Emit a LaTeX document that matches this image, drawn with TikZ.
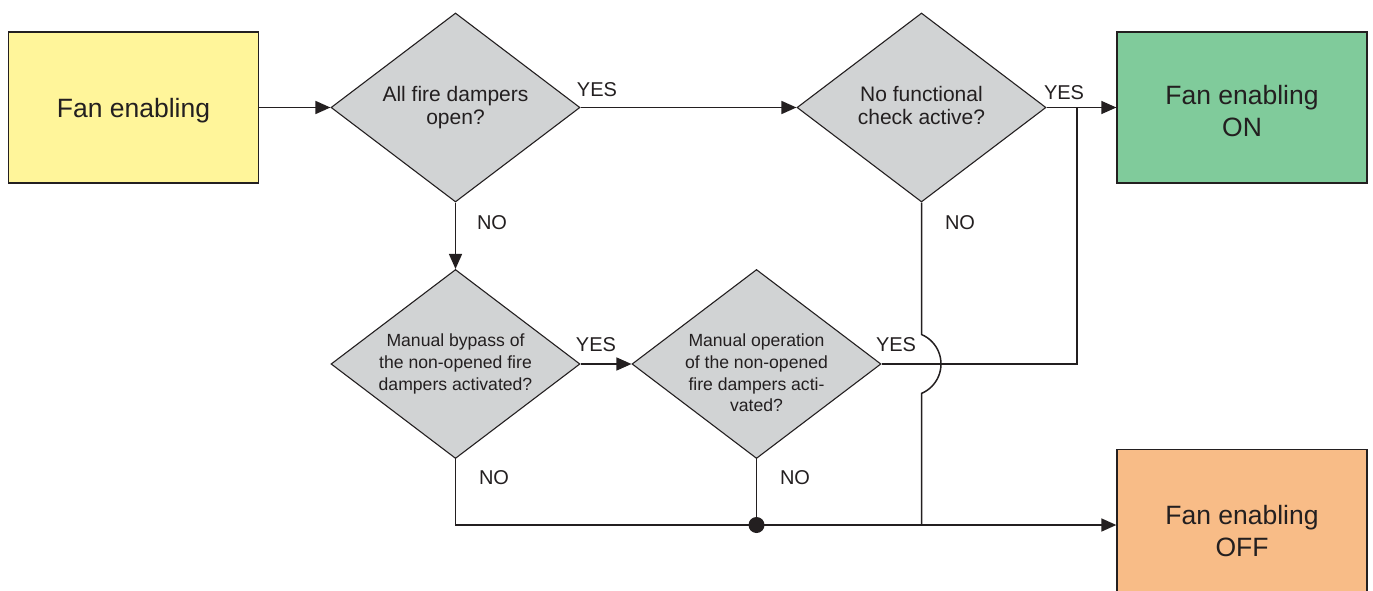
\documentclass[tikz,border=0pt]{standalone}
\usepackage{fontspec}
\setmainfont{Liberation Sans}
\usetikzlibrary{shapes.geometric,arrows.meta}
\definecolor{ink}{HTML}{231F20}
\definecolor{startfill}{HTML}{FFF59A}
\definecolor{onfill}{HTML}{80CB9B}
\definecolor{offfill}{HTML}{F8BC87}
\definecolor{decfill}{HTML}{D1D3D4}
\begin{document}
\begin{tikzpicture}[x=1pt,y=-1pt,
  box/.style={draw=ink, line width=1.3pt, minimum width=250pt, minimum height=151pt,
    inner sep=0pt, align=center, text=ink, font=\fontsize{26.5}{31.5}\selectfont},
  boxtext/.style={inner sep=0pt, align=center, text=ink, font=\fontsize{26.5}{31.5}\selectfont},
  decision/.style={diamond, shape aspect=1.32, draw=ink, line width=1.1pt, fill=decfill,
    minimum width=249pt, minimum height=189pt, inner sep=0pt, align=center, text=ink},
  bigq/.style={font=\fontsize{21}{23}\selectfont},
  smallq/.style={font=\fontsize{17.6}{21.8}\selectfont},
  link/.style={draw=ink, line width=1.5pt},
  flow/.style={link, -{Triangle[length=15pt,width=13pt]}},
  lbl/.style={text=ink, inner sep=0pt, font=\fontsize{20}{24}\selectfont},
  joint/.style={circle, fill=ink, inner sep=0pt, minimum size=16pt}]
\clip (0,0) rectangle (1373,591);

% boxes
\node[box, fill=startfill, text depth=0pt] (start) at (133.5,107.5) {Fan enabling};
\node[box, fill=onfill] (on) at (1242,107.5) {};
\node[boxtext] (ontext) at (1242,111) {Fan enabling\\ON};
\node[box, fill=offfill] (off) at (1242,525) {};
\node[boxtext] (offtext) at (1242,531) {Fan enabling\\OFF};

% decisions
\node[decision, bigq] (d1) at (455.5,107.5) {All fire dampers\\open?};
\node[decision, bigq] (d2) at (921.5,107.5) {No functional\\check active?\vphantom{p}};
\node[decision, smallq] (d3) at (455.5,364) {Manual bypass of\\the non-opened fire\\dampers activated?};
\node[decision] (d4) at (756.5,364) {};
\node[smallq, text=ink, align=center, inner sep=0pt] (d4text) at (756.5,373)
  {Manual operation\\of the non-opened\\fire dampers acti-\\vated?};

% helper points
\coordinate (jon) at (1077,107.5);
\coordinate (jcorner) at (1077,364);
\coordinate (hoptop) at (921.5,334.5);
\coordinate (d2foot) at (921.5,525);
\coordinate (d3foot) at (455.5,525);
\node[joint] (dot) at (756.5,525) {};

% connectors
\draw[flow] (start) -- (d1);
\draw[flow] (d1) -- (d2);
\draw[flow] (d1) -- (d3);
\draw[flow] (d2) -- (on);
\draw[flow] (d3) -- (d4);
\draw[link] (d4.east) -- (jcorner) -- (jon);
\draw[link] (d2.south) -- (hoptop) arc[start angle=-67, end angle=67, radius=32] -- (d2foot);
\draw[flow] (d3.south) -- (d3foot) -- (off.west);
\draw[link] (d4.south) -- (dot);

% branch labels
\node[lbl] at (597,90) {YES};
\node[lbl] at (492,223) {NO};
\node[lbl] at (1064,93) {YES};
\node[lbl] at (960,223) {NO};
\node[lbl] at (596,345) {YES};
\node[lbl] at (896,345) {YES};
\node[lbl] at (494,478) {NO};
\node[lbl] at (795,478) {NO};
\end{tikzpicture}
\end{document}
